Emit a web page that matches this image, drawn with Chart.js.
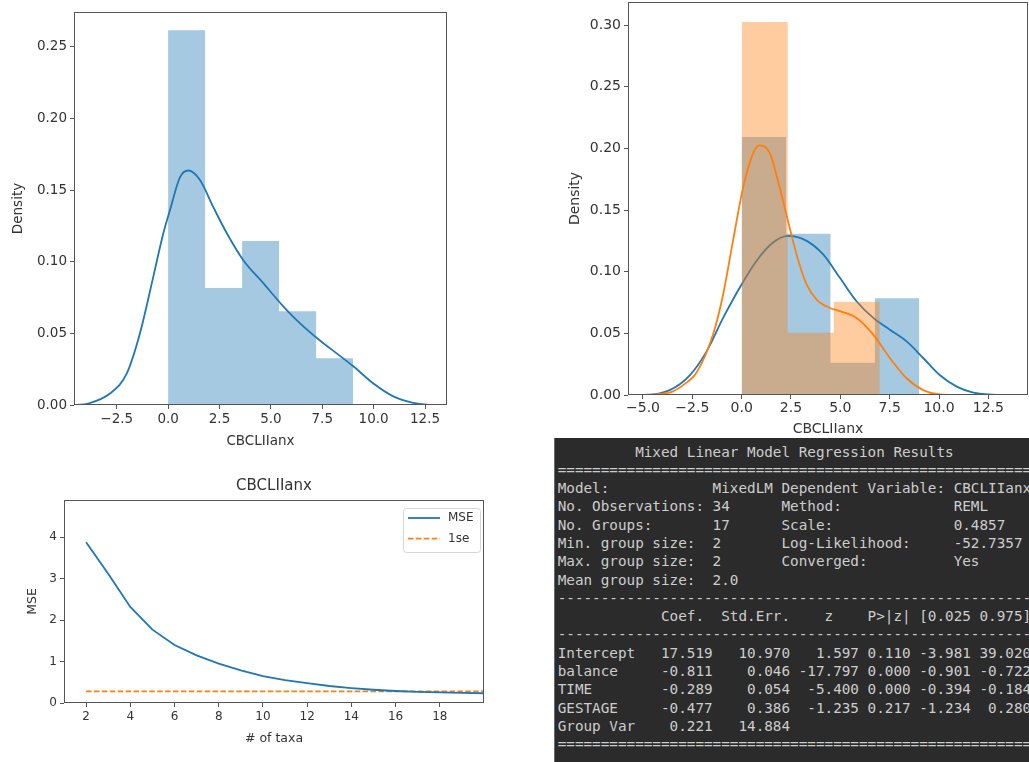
<!DOCTYPE html>
<html>
<head>
<meta charset="utf-8">
<script src="https://cdn.jsdelivr.net/npm/chart.js@4.4.1/dist/chart.umd.min.js"></script>
<style>
  body { margin: 0; width: 1029px; height: 762px; overflow: hidden; position: relative; background: #fff; }
  canvas { position: absolute; }
  #distA { left: 0; top: 0; }
  #distB { left: 540px; top: 0; }
  #mse { left: 0; top: 460px; }
  #summary {
    position: absolute; left: 554px; top: 438px; width: 490px; height: 330px;
    margin: 0; padding: 4.5px 0 0 2.7px; box-sizing: border-box;
    background: #2b2b2b; border-left: 1px solid #6a6a6a;
    font: 14.3px/18.3px "DejaVu Sans Mono", monospace; color: #cdcdcd;
    white-space: pre; overflow: hidden;
  }
</style>
</head>
<body>
<canvas id="distA" width="460" height="452"></canvas>
<canvas id="distB" width="489" height="438"></canvas>
<canvas id="mse" width="540" height="302"></canvas>
<pre id="summary">         Mixed Linear Model Regression Results
=======================================================
Model:            MixedLM Dependent Variable: CBCLIIanx
No. Observations: 34      Method:             REML
No. Groups:       17      Scale:              0.4857
Min. group size:  2       Log-Likelihood:     -52.7357
Max. group size:  2       Converged:          Yes
Mean group size:  2.0
-------------------------------------------------------
            Coef.  Std.Err.    z    P>|z| [0.025 0.975]
-------------------------------------------------------
Intercept   17.519   10.970   1.597 0.110 -3.981 39.020
balance     -0.811    0.046 -17.797 0.000 -0.901 -0.722
TIME        -0.289    0.054  -5.400 0.000 -0.394 -0.184
GESTAGE     -0.477    0.386  -1.235 0.217 -1.234  0.280
Group Var    0.221   14.884
=======================================================
</pre>

<script>
// ---- all CBCLIIanx density values ----
const edgesAll = [0, 1.8, 3.6, 5.4, 7.2, 9.0];
const densAll = [0.2614, 0.0817, 0.1144, 0.0654, 0.0327];
const kdeXAll = [-4.5, -3.9, -2.83, -2.01, -1.37, -0.72, -0.23, 0.09, 0.58, 0.98, 1.55, 2.2, 2.85, 3.66, 4.63, 5.61, 6.42, 7.39, 8.2, 9.01, 9.99, 10.96, 11.93, 12.58, 13.5];
const kdeYAll = [0, 0.001, 0.008, 0.022, 0.05, 0.0896, 0.12, 0.136, 0.159, 0.1636, 0.157, 0.138, 0.12, 0.101, 0.085, 0.0687, 0.057, 0.045, 0.036, 0.027, 0.015, 0.006, 0.0015, 0.0003, 0];

// ---- split by group: blue / orange ----
const edgesBlue = [0, 2.25, 4.5, 6.75, 9.0];
const densBlue = [0.2092, 0.1307, 0.0261, 0.0784];
const edgesOrange = [0, 2.333, 4.667, 7.0];
const densOrange = [0.3025, 0.0504, 0.0756];
const kdeXBlue = [-5.7, -5.0, -3.65, -2.63, -1.79, -0.94, -0.1, 0.75, 1.59, 2.35, 3.29, 4.13, 4.98, 5.82, 6.67, 7.51, 8.36, 9.2, 10.05, 10.9, 11.74, 13.43, 14.4];
const kdeYBlue = [0, 0, 0.004, 0.016, 0.035, 0.0625, 0.087, 0.1087, 0.1236, 0.129, 0.125, 0.114, 0.095, 0.076, 0.0625, 0.053, 0.0435, 0.03, 0.016, 0.0068, 0.002, 0, 0];
const kdeXOrange = [-4.6, -3.48, -2.8, -2.29, -1.45, -0.94, -0.44, 0.07, 0.58, 0.92, 1.43, 1.93, 2.35, 2.78, 3.29, 3.8, 4.47, 4.98, 5.82, 6.67, 7.51, 8.36, 9.2, 10.05, 11.0];
const kdeYOrange = [0, 0.003, 0.01, 0.018, 0.049, 0.0815, 0.125, 0.168, 0.196, 0.2024, 0.196, 0.168, 0.141, 0.114, 0.0897, 0.0774, 0.0706, 0.068, 0.0625, 0.049, 0.03, 0.0136, 0.004, 0.0005, 0];

// ---- MSE by number of taxa ----
const taxa = [2, 3, 4, 5, 6, 7, 8, 9, 10, 11, 12, 13, 14, 15, 16, 17, 18, 19, 20];
const mse = [3.88, 3.12, 2.32, 1.77, 1.4, 1.15, 0.95, 0.79, 0.65, 0.55, 0.48, 0.41, 0.36, 0.32, 0.29, 0.27, 0.255, 0.245, 0.235];
const oneSe = [0.28, 0.28, 0.28, 0.28, 0.28, 0.28, 0.28, 0.28, 0.28, 0.28, 0.28, 0.28, 0.28, 0.28, 0.28, 0.28, 0.28, 0.28, 0.28];

const BLUE = '#1f77b4';
const ORANGE = '#ff7f0e';
const INK = '#333';
const SPINE = '#555';

function pairs(xs, ys) {
    return xs.map((x, i) => ({ x: x, y: ys[i] }));
}

// step outline of a histogram, closed down to zero on both ends
function histPoints(edges, dens) {
    let pts = [{ x: edges[0], y: 0 }];
    dens.forEach((d, i) => pts.push({ x: edges[i], y: d }));
    pts.push({ x: edges[edges.length - 1], y: 0 });
    return pts;
}

function minus(v, digits) {
    let s = Math.abs(v).toFixed(digits);
    return v < -1e-9 ? '\u2212' + s : s;
}

// fixed axis thickness, and no extra room asked for the end labels
function fixWidth(w) {
    return s => { s.width = w; s.paddingTop = 0; s.paddingBottom = 0; };
}

/* box around the plotting area */
const frame = {
    id: 'frame',
    afterDatasetsDraw(chart) {
        const { ctx, chartArea: a } = chart;
        ctx.save();
        ctx.strokeStyle = SPINE;
        ctx.lineWidth = 1;
        ctx.strokeRect(a.left + 0.5, a.top + 0.5, a.right - a.left - 1, a.bottom - a.top - 1);
        ctx.restore();
    }
};

/* legend inside the MSE plot, upper right */
const boxLegend = {
    id: 'boxLegend',
    afterDraw(chart) {
        const { ctx, chartArea: a } = chart;
        const w = 77, h = 44;
        const x0 = a.right - w - 4, y0 = a.top + 8;
        ctx.save();
        ctx.fillStyle = 'rgba(255,255,255,0.8)';
        ctx.strokeStyle = '#d6d6d6';
        ctx.lineWidth = 1;
        ctx.beginPath();
        ctx.roundRect(x0 + 0.5, y0 + 0.5, w, h, 3);
        ctx.fill();
        ctx.stroke();
        chart.data.datasets.forEach((ds, i) => {
            const y = y0 + 10 + i * 20.6;
            ctx.strokeStyle = ds.borderColor;
            ctx.lineWidth = ds.borderWidth;
            ctx.setLineDash(ds.borderDash || []);
            ctx.beginPath();
            ctx.moveTo(x0 + 5, y);
            ctx.lineTo(x0 + 37, y);
            ctx.stroke();
            ctx.setLineDash([]);
            ctx.fillStyle = INK;
            ctx.font = '12px "DejaVu Sans"';
            ctx.textBaseline = 'middle';
            ctx.fillText(ds.label, x0 + 45, y);
        });
        ctx.restore();
    }
};

function font(size) {
    return { family: '"DejaVu Sans"', size: size };
}

function tickGrid() {
    return { drawOnChartArea: false, drawTicks: true, tickLength: 4, color: SPINE };
}

/* HISTOGRAM + KDE, ALL */

new Chart(document.getElementById('distA'), {
    type: 'line',
    data: {
        datasets: [{
            data: histPoints(edgesAll, densAll),
            stepped: true,
            fill: 'origin',
            backgroundColor: 'rgba(31,119,180,0.4)',
            borderColor: 'transparent',
            borderWidth: 0,
            pointRadius: 0,
            order: 2
        }, {
            data: pairs(kdeXAll, kdeYAll),
            borderColor: BLUE,
            borderWidth: 1.8,
            pointRadius: 0,
            cubicInterpolationMode: 'monotone',
            fill: false,
            order: 1
        }]
    },
    options: {
        responsive: false,
        animation: false,
        layout: { padding: { left: 0, top: 12, right: 13, bottom: 0 } },
        plugins: { legend: { display: false }, tooltip: { enabled: false } },
        scales: {
            x: {
                type: 'linear', min: -4.58, max: 13.57,
                afterFit: s => { s.height = 47; },
                ticks: { stepSize: 2.5, includeBounds: false, autoSkip: false, maxRotation: 0, padding: 2, color: INK, font: font(13.5), callback: v => minus(v, 1) },
                grid: tickGrid(),
                border: { display: false },
                title: { display: true, text: 'CBCLIIanx', color: INK, font: font(13.5), padding: { top: 0, bottom: 2 } }
            },
            y: {
                min: 0, max: 0.2742,
                afterFit: fixWidth(74),
                ticks: { stepSize: 0.05, includeBounds: false, autoSkip: false, padding: 3, color: INK, font: font(13.5), callback: v => v.toFixed(2) },
                grid: tickGrid(),
                border: { display: false },
                title: { display: true, text: 'Density', color: INK, font: font(13.5), padding: { top: 10, bottom: 0 } }
            }
        }
    },
    plugins: [frame]
});

/* HISTOGRAM + KDE, TWO GROUPS */

new Chart(document.getElementById('distB'), {
    type: 'line',
    data: {
        datasets: [{
            data: histPoints(edgesBlue, densBlue),
            stepped: true,
            fill: 'origin',
            backgroundColor: 'rgba(31,119,180,0.4)',
            borderColor: 'transparent',
            borderWidth: 0,
            pointRadius: 0,
            order: 4
        }, {
            data: pairs(kdeXBlue, kdeYBlue),
            borderColor: BLUE,
            borderWidth: 1.8,
            pointRadius: 0,
            cubicInterpolationMode: 'monotone',
            fill: false,
            order: 3
        }, {
            data: histPoints(edgesOrange, densOrange),
            stepped: true,
            fill: 'origin',
            backgroundColor: 'rgba(255,127,14,0.4)',
            borderColor: 'transparent',
            borderWidth: 0,
            pointRadius: 0,
            order: 2
        }, {
            data: pairs(kdeXOrange, kdeYOrange),
            borderColor: ORANGE,
            borderWidth: 1.8,
            pointRadius: 0,
            cubicInterpolationMode: 'monotone',
            fill: false,
            order: 1
        }]
    },
    options: {
        responsive: false,
        animation: false,
        layout: { padding: { left: 0, top: 2, right: 1, bottom: 0 } },
        plugins: { legend: { display: false }, tooltip: { enabled: false } },
        scales: {
            x: {
                type: 'linear', min: -5.76, max: 14.51,
                afterFit: s => { s.height = 43; },
                ticks: { stepSize: 2.5, includeBounds: false, autoSkip: false, maxRotation: 0, padding: 1, color: INK, font: font(14), callback: v => minus(v, 1) },
                grid: tickGrid(),
                border: { display: false },
                title: { display: true, text: 'CBCLIIanx', color: INK, font: font(14), padding: { top: 0, bottom: 0 } }
            },
            y: {
                min: 0, max: 0.3187,
                afterFit: fixWidth(88),
                ticks: { stepSize: 0.05, includeBounds: false, autoSkip: false, padding: 3, color: INK, font: font(14), callback: v => v.toFixed(2) },
                grid: tickGrid(),
                border: { display: false },
                title: { display: true, text: 'Density', color: INK, font: font(14), padding: { top: 26.6, bottom: 0 } }
            }
        }
    },
    plugins: [frame]
});

/* MSE vs NUMBER OF TAXA */

new Chart(document.getElementById('mse'), {
    type: 'line',
    data: {
        datasets: [{
            label: 'MSE',
            data: pairs(taxa, mse),
            borderColor: BLUE,
            borderWidth: 1.8,
            pointRadius: 0,
            tension: 0,
            fill: false
        }, {
            label: '1se',
            data: pairs(taxa, oneSe),
            borderColor: ORANGE,
            borderWidth: 1.8,
            borderDash: [5.5, 2.4],
            pointRadius: 0,
            fill: false
        }]
    },
    options: {
        responsive: false,
        animation: false,
        layout: { padding: { left: 0, top: 0, right: 56, bottom: 0 } },
        plugins: {
            legend: { display: false },
            tooltip: { enabled: false },
            title: {
                display: true, fullSize: false, text: 'CBCLIIanx', color: INK,
                font: { family: '"DejaVu Sans"', size: 15, weight: 'normal' },
                padding: { top: 17, bottom: 5 }
            }
        },
        scales: {
            x: {
                type: 'linear', min: 1, max: 20,
                afterFit: s => { s.height = 59; },
                afterBuildTicks: s => { s.ticks = s.ticks.filter(t => t.value < 20); },
                ticks: { stepSize: 2, includeBounds: false, autoSkip: false, maxRotation: 0, padding: 3, color: INK, font: font(12) },
                grid: tickGrid(),
                border: { display: false },
                title: { display: true, text: '# of taxa', color: INK, font: font(12.5), padding: { top: 0, bottom: 16 } }
            },
            y: {
                min: 0, max: 4.9,
                afterFit: fixWidth(64),
                ticks: { stepSize: 1, includeBounds: false, autoSkip: false, padding: 3, color: INK, font: font(12) },
                grid: tickGrid(),
                border: { display: false },
                title: { display: true, text: 'MSE', color: INK, font: font(12.5), padding: { top: 25.7, bottom: 0 } }
            }
        }
    },
    plugins: [frame, boxLegend]
});
</script>
</body>
</html>
